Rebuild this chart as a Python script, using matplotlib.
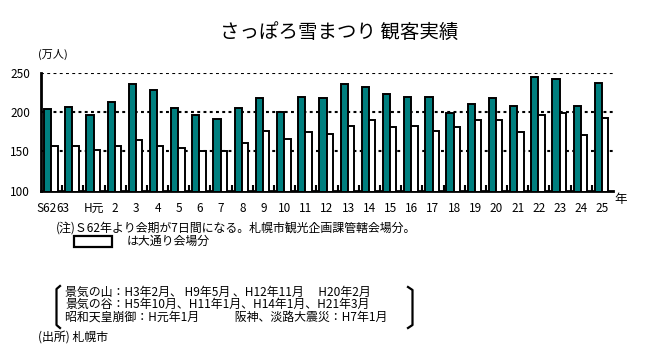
import matplotlib
matplotlib.use("Agg")
import matplotlib.pyplot as plt
from matplotlib.patches import Rectangle
from matplotlib.lines import Line2D
import numpy as np

plt.rcParams['font.family'] = ['Noto Sans CJK JP', 'DejaVu Sans']

categories = ["S62", "63", "H元", "2", "3", "4", "5", "6", "7", "8", "9", "10", "11", "12",
              "13", "14", "15", "16", "17", "18", "19", "20", "21", "22", "23", "24", "25"]
total_visitors = [204, 206, 196, 212, 236, 228, 205, 196, 191, 205, 218, 200, 219, 218,
                  235, 231, 223, 219, 219, 199, 210, 217, 208, 244, 242, 207, 237]
odori_visitors = [156, 156, 151, 156, 164, 157, 154, 150, 150, 160, 176, 166, 175, 172,
                  182, 190, 181, 182, 176, 181, 189, 190, 175, 196, 199, 171, 192]
yticks = [100, 150, 200, 250]

W, H = 645, 356
def fx(p): return p / W
def fy(p): return 1 - p / H

fig = plt.figure(figsize=(W / 100, H / 100), dpi=100)
ax = fig.add_axes([fx(41), fy(190.5), fx(613) - fx(41), fy(72.5) - fy(190.5)])

x = np.arange(len(categories))
ax.bar(x - 0.19, total_visitors, width=0.34, bottom=0, color="#007f7f",
       edgecolor="black", linewidth=1.4, zorder=3)
ax.bar(x + 0.13, odori_visitors, width=0.30, bottom=0, color="white",
       edgecolor="black", linewidth=1.4, zorder=3)

ax.set_ylim(100, 250)
ax.set_xlim(-0.5, len(categories) - 0.5)
ax.set_yticks(yticks)
ax.set_yticklabels([str(v) for v in yticks], fontsize=8.5)
for v in [150, 200, 250]:
    ax.axhline(v, color="black", linewidth=1.5, linestyle=(0, (1.4, 1.6)), zorder=1)

label_pos = list(x.astype(float))
label_pos[0] = -0.24
label_pos[1] = 0.52
ax.set_xticks(label_pos)
ax.set_xticklabels(categories, fontsize=8.5)
ax.set_xticks(x[:-1] + 0.5, minor=True)
ax.tick_params(axis="x", which="major", length=0, pad=8)
ax.tick_params(axis="x", which="minor", length=4, width=1.5, direction="in")
ax.tick_params(axis="y", length=0, pad=8)

for s in ["top", "right"]:
    ax.spines[s].set_visible(False)
ax.spines["left"].set_linewidth(2)
ax.spines["bottom"].set_linewidth(2)

fig.text(fx(339), fy(32), "さっぽろ雪まつり 観客実績", fontsize=14, ha="center", va="center")
fig.text(fx(38), fy(54), "(万人)", fontsize=8, ha="left", va="center")
fig.text(fx(621), fy(200), "年", fontsize=9, ha="center", va="center")

fig.text(fx(56), fy(228), "(注)Ｓ62年より会期が7日間になる。札幌市観光企画課管轄会場分。",
         fontsize=8.6, ha="left", va="center")
fig.patches.append(Rectangle((fx(74), fy(247)), fx(112) - fx(74), fy(236) - fy(247),
                             transform=fig.transFigure, facecolor="white",
                             edgecolor="black", linewidth=1.6))
fig.text(fx(127), fy(241), "は大通り会場分", fontsize=8.6, ha="left", va="center")

lines = ["景気の山：H3年2月、 H9年5月 、H12年11月　 H20年2月",
         "景気の谷：H5年10月、H11年1月、H14年1月、H21年3月",
         "昭和天皇崩御：H元年1月　　　阪神、淡路大震災：H7年1月"]
for i, t in enumerate(lines):
    fig.text(fx(65), fy(292 + i * 12.5), t, fontsize=8.6, ha="left", va="center")

# brackets
for xs, ys in [([60, 56.5, 56.5, 60], [286, 289, 325, 328]),
               ([408, 412.5, 412.5, 408], [287, 290, 325, 328])]:
    fig.lines.append(Line2D([fx(v) for v in xs], [fy(v) for v in ys],
                            transform=fig.transFigure, color="black", linewidth=1.6))

fig.text(fx(38), fy(337), "(出所) 札幌市", fontsize=8.6, ha="left", va="center")

fig.savefig("out.png", dpi=100, facecolor="white")
